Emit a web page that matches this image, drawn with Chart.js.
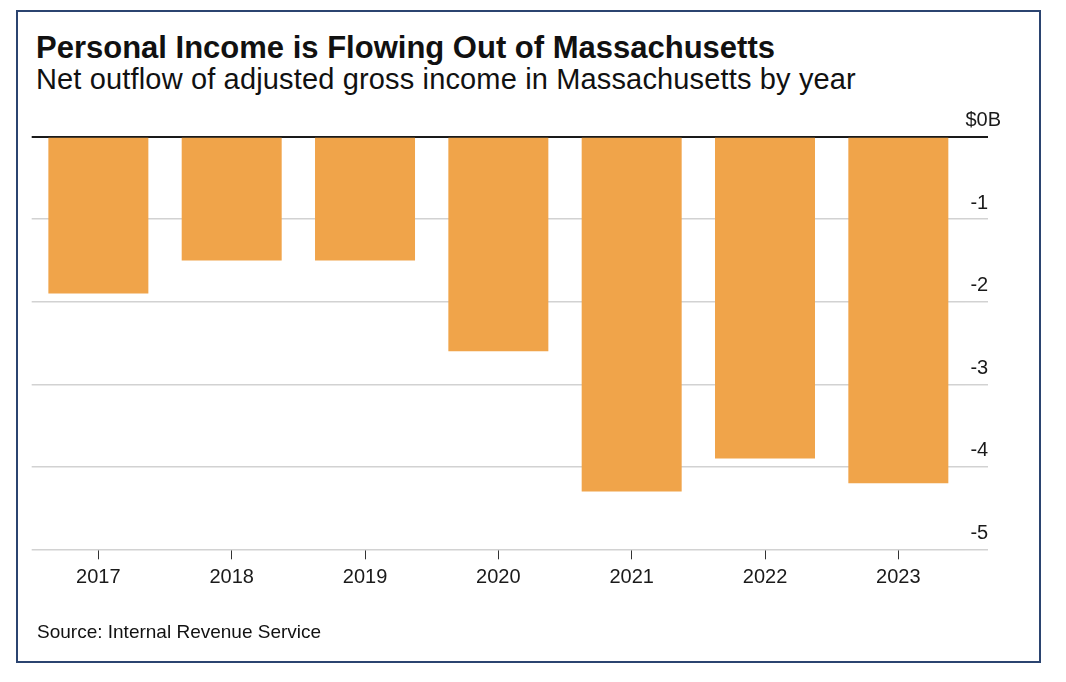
<!DOCTYPE html>
<html lang="en">
  <head>
    <meta charset="UTF-8" />
    <meta name="viewport" content="width=device-width, initial-scale=1.0" />
    <title>Personal Income is Flowing Out of Massachusetts</title>
  </head>
  <style>
    * {
      margin: 0;
      padding: 0;
      font-family: "Liberation Sans", Arial, sans-serif;
    }
    body {
      width: 1066px;
      height: 682px;
      background: #fff;
      position: relative;
      overflow: hidden;
    }
    .frame {
      position: absolute;
      left: 16px;
      top: 10px;
      width: 1025px;
      height: 653px;
      border: 2px solid #2b4470;
      box-sizing: border-box;
    }
    .title {
      position: absolute;
      left: 36px;
      top: 32px;
      font-size: 31px;
      line-height: 31px;
      font-weight: bold;
      color: #111;
    }
    .subtitle {
      position: absolute;
      left: 36px;
      top: 65px;
      font-size: 29px;
      line-height: 29px;
      letter-spacing: 0.15px;
      color: #111;
    }
    .source {
      position: absolute;
      left: 37px;
      top: 622px;
      font-size: 19px;
      line-height: 19px;
      color: #111;
    }
    .chartBox {
      position: absolute;
      left: 0;
      top: 0;
      width: 1066px;
      height: 682px;
    }
  </style>
  <body>
    <div class="frame"></div>
    <div class="title">Personal Income is Flowing Out of Massachusetts</div>
    <div class="subtitle">Net outflow of adjusted gross income in Massachusetts by year</div>
    <div class="chartBox">
      <canvas id="myChart"></canvas>
    </div>
    <div class="source">Source: Internal Revenue Service</div>

    <script src="https://cdn.jsdelivr.net/npm/chart.js"></script>

    <script>
      // data block
      const years = ["2017", "2018", "2019", "2020", "2021", "2022", "2023"];
      const outflow = [-1.9, -1.5, -1.5, -2.6, -4.3, -3.9, -4.2];
      const yTickLabels = ["$0B", "-1", "-2", "-3", "-4", "-5"];

      const data = {
        labels: years,
        datasets: [
          {
            data: outflow,
            backgroundColor: "#f0a44a",
            barPercentage: 0.75,
            categoryPercentage: 1
          }
        ]
      };

      // config block
      const config = {
        type: "bar",
        data,
        options: {
          responsive: true,
          maintainAspectRatio: false,
          animation: false,
          layout: {
            padding: { left: 31.7, right: 78, top: 136.7, bottom: 95.7 }
          },
          plugins: {
            legend: { display: false },
            tooltip: { enabled: false }
          },
          scales: {
            x: {
              border: { display: false },
              grid: {
                offset: false,
                drawOnChartArea: false,
                tickLength: 10,
                color: "#333",
                lineWidth: 1
              },
              ticks: {
                font: { size: 20 },
                color: "#1a1a1a",
                padding: 6
              },
              afterFit(scale) {
                scale.height = 37;
              }
            },
            y: {
              position: "right",
              min: -5,
              max: 0,
              border: { display: false },
              grid: {
                tickLength: 23,
                color: (ctx) => (ctx.tick && ctx.tick.value === 0 ? "#1a1a1a" : "#d2d2d2"),
                lineWidth: (ctx) => (ctx.tick && ctx.tick.value === 0 ? 2 : 1.5)
              },
              ticks: {
                stepSize: 1,
                mirror: true,
                padding: 36,
                labelOffset: -16,
                font: { size: 20 },
                color: "#1a1a1a",
                // numbers line up at the gridline end, the "B" hangs past it
                callback: (value) => yTickLabels[-value] + (value === 0 ? "" : "\u2007\u200a")
              },
              afterFit(scale) {
                scale.width = 23;
              }
            }
          }
        }
      };

      // init render block
      const myChart = new Chart(document.getElementById("myChart"), config);
    </script>
  </body>
</html>
